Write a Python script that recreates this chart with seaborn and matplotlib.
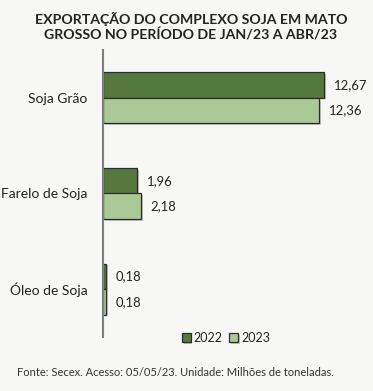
import matplotlib
matplotlib.use("Agg")
import matplotlib.pyplot as plt
import matplotlib.patheffects as pe
import seaborn as sns
import pandas as pd

categories = ["Soja Grão", "Farelo de Soja", "Óleo de Soja"]
years = ["2022", "2023"]
values_2022 = [12.67, 1.96, 0.18]
values_2023 = [12.36, 2.18, 0.18]
title = "EXPORTAÇÃO DO COMPLEXO SOJA EM MATO\nGROSSO NO PERÍODO DE JAN/23 A ABR/23"
footer = "Fonte: Secex. Acesso: 05/05/23. Unidade: Milhões de toneladas."

df = pd.DataFrame({
    "cat": categories * 2,
    "year": [years[0]] * 3 + [years[1]] * 3,
    "val": values_2022 + values_2023,
})

bg = "#F7F7F5"
sns.set_theme(style="white")
plt.rcParams["font.family"] = ["Lato", "DejaVu Sans"]

fig = plt.figure(figsize=(3.73, 3.91), dpi=100, facecolor=bg)
ax = fig.add_axes([103 / 373, 1 - 337 / 391, (365 - 103) / 373, (337 - 50) / 391])
ax.set_facecolor(bg)

palette = {"2022": "#538135", "2023": "#A9D18E"}
sns.barplot(data=df, y="cat", x="val", hue="year", orient="h", palette=palette,
            width=0.53, edgecolor="#2b2b2b", linewidth=0.9, ax=ax, legend=True)

for p in ax.patches:
    p.set_path_effects([pe.SimplePatchShadow(offset=(1.2, -1.2), alpha=0.25), pe.Normal()])

for cont in ax.containers:
    labels = [f"{v:.2f}".replace(".", ",") for v in cont.datavalues]
    ax.bar_label(cont, labels=labels, padding=7, fontsize=9.4, color="#222222")

ax.set_xlim(0, 15)
ax.set_ylim(2.5, -0.5)
ax.set_xlabel("")
ax.set_ylabel("")
ax.set_xticks([])
ax.tick_params(axis="y", length=0, pad=11, labelsize=10, labelcolor="#222222")
for s in ["top", "right", "bottom"]:
    ax.spines[s].set_visible(False)
ax.spines["left"].set_color("#7f7f7f")
ax.spines["left"].set_linewidth(1.5)

handles, labs = ax.get_legend_handles_labels()
ax.legend(handles, labs, loc="center", bbox_to_anchor=(226 / 373, 1 - 338 / 391),
          bbox_transform=fig.transFigure, ncol=2, frameon=False, fontsize=9,
          handlelength=0.7, handleheight=0.7, handletextpad=0.25, columnspacing=0.5,
          labelcolor="#222222")

fig.text(0.512, 1 - 27 / 391, title, ha="center", va="center", fontsize=10.2,
         fontweight="bold", color="#222222", linespacing=1.25)
fig.text(17 / 373, 1 - 373 / 391, footer, ha="left", va="center", fontsize=8,
         color="#333333")

fig.savefig("out.png", dpi=100, facecolor=bg)
